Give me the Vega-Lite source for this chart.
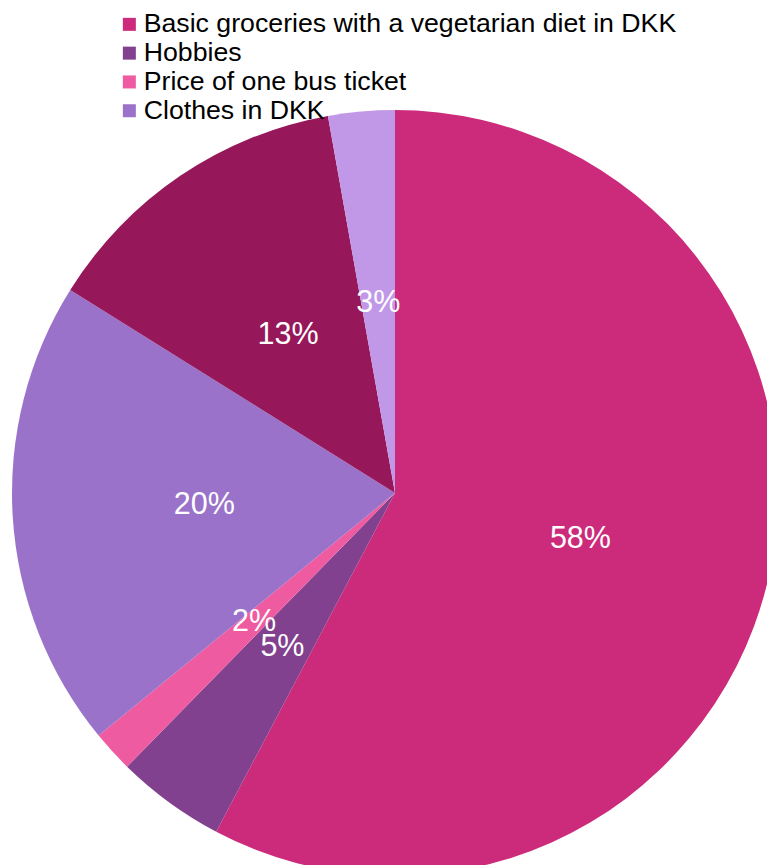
{
  "$schema": "https://vega.github.io/schema/vega-lite/v6.json",
  "width": 790,
  "height": 986,
  "autosize": "none",
  "padding": 0,
  "background": "white",
  "config": {"view": {"stroke": null}, "font": "Liberation Sans"},
  "data": {
    "values": [
      {"idx": 1, "cat": "Basic groceries with a vegetarian diet in DKK", "pct": 57.7, "label": "58%"},
      {"idx": 2, "cat": "Hobbies", "pct": 4.6, "label": "5%"},
      {"idx": 3, "cat": "Price of one bus ticket", "pct": 1.75, "label": "2%"},
      {"idx": 4, "cat": "Clothes in DKK", "pct": 19.8, "label": "20%"},
      {"idx": 5, "cat": "Rent", "pct": 13.3, "label": "13%"},
      {"idx": 6, "cat": "Other", "pct": 2.8, "label": "3%"}
    ]
  },
  "encoding": {
    "theta": {"field": "pct", "type": "quantitative", "stack": true},
    "order": {"field": "idx", "type": "quantitative"}
  },
  "layer": [
    {
      "mark": {"type": "arc", "radius": 383},
      "encoding": {
        "color": {
          "field": "cat",
          "type": "nominal",
          "sort": null,
          "scale": {
            "domain": ["Basic groceries with a vegetarian diet in DKK", "Hobbies", "Price of one bus ticket", "Clothes in DKK", "Rent", "Other"],
            "range": ["#CC2A7A", "#82418E", "#EE5BA0", "#9B72C9", "#96175A", "#C197E8"]
          },
          "legend": {
            "title": null,
            "values": ["Basic groceries with a vegetarian diet in DKK", "Hobbies", "Price of one bus ticket", "Clothes in DKK"],
            "orient": "none",
            "legendX": 116,
            "legendY": 11,
            "padding": 0,
            "symbolType": "square",
            "symbolSize": 169,
            "symbolStrokeWidth": 0,
            "labelFontSize": 26.7,
            "labelColor": "#000000",
            "labelFont": "Liberation Sans",
            "labelOffset": 1,
            "labelLimit": 700,
            "rowPadding": 0.8
          }
        }
      }
    },
    {
      "mark": {"type": "text", "radius": 191, "color": "white", "fontSize": 30.5, "font": "Liberation Sans"},
      "encoding": {
        "detail": {"field": "cat", "type": "nominal"},
        "text": {"field": "label", "type": "nominal"}
      }
    }
  ]
}
